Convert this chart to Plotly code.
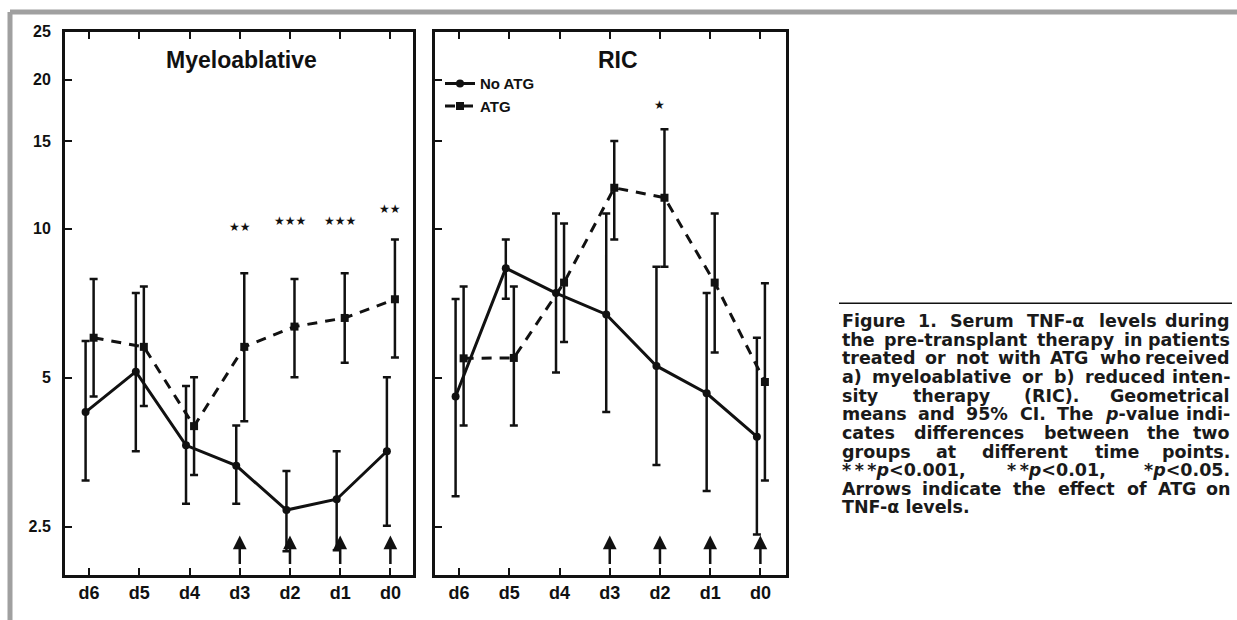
import math
import re
import plotly.graph_objects as go

# ---------------- data ----------------
days = ["d6", "d5", "d4", "d3", "d2", "d1", "d0"]

# Myeloablative
mye_noatg_mean = [4.26, 5.14, 3.65, 3.32, 2.70, 2.84, 3.55]
mye_noatg_hi = [5.93, 7.41, 4.81, 4.00, 3.24, 3.55, 5.01]
mye_noatg_lo = [3.10, 3.55, 2.78, 2.78, 2.23, 2.24, 2.51]
mye_atg_mean = [6.02, 5.77, 3.99, 5.77, 6.34, 6.60, 7.20]
mye_atg_hi = [7.91, 7.64, 5.01, 8.13, 7.91, 8.13, 9.51]
mye_atg_lo = [4.58, 4.38, 3.18, 4.08, 5.01, 5.36, 5.49]

# RIC
ric_noatg_mean = [4.58, 8.32, 7.41, 6.71, 5.28, 4.65, 3.80]
ric_noatg_hi = [7.21, 9.51, 10.73, 10.73, 8.38, 7.41, 6.02]
ric_noatg_lo = [2.88, 7.22, 5.12, 4.26, 3.33, 2.95, 2.41]
ric_atg_mean = [5.47, 5.48, 7.78, 12.09, 11.55, 7.78, 4.90]
ric_atg_hi = [7.64, 7.64, 10.24, 15.04, 15.88, 10.73, 7.76]
ric_atg_lo = [4.00, 4.00, 5.90, 9.51, 8.38, 5.62, 3.10]

mye_sig = {"d3": "★★", "d2": "★★★", "d1": "★★★", "d0": "★★"}
mye_sig_y = {"d3": 10.1, "d2": 10.37, "d1": 10.37, "d0": 10.98}
ric_sig = {"d2": "★"}
ric_sig_y = {"d2": 17.8}
arrow_days = ["d3", "d2", "d1", "d0"]

y_ticks = [2.5, 5, 10, 15, 20, 25]
y_tick_text = ["2.5", "5", "10", "15", "20", "25"]

caption_lines = [
    "Figure 1. Serum TNF-α levels during",
    "the pre-transplant therapy in patients",
    "treated or not with ATG who received",
    "a) myeloablative or b) reduced inten-",
    "sity therapy (RIC). Geometrical",
    "means and 95% CI. The <i>p</i>-value indi-",
    "cates differences between the two",
    "groups at different time points.",
    "*\u2009*\u2009*<i>p</i>&lt;0.001, *\u2009*<i>p</i>&lt;0.01, *<i>p</i>&lt;0.05.",
    "Arrows indicate the effect of ATG on",
    "TNF-α levels.",
]

# ---------------- figure ----------------
W, H = 1237, 620
DY = -6  # vertical pixel correction


def py(px):
    return 1 - (px + DY) / H


FONT = "Liberation Sans"
idx = list(range(len(days)))
off_no, off_atg = -0.07, 0.09

fig = go.Figure()


def add_series(mean, hi, lo, offset, xa, ya, name, dash, symbol, show):
    fig.add_trace(go.Scatter(
        x=[i + offset for i in idx], y=mean, xaxis=xa, yaxis=ya,
        mode="lines+markers", name=name, showlegend=show,
        line=dict(color="#111111", width=3, dash=dash),
        marker=dict(symbol=symbol, size=8, color="#111111"),
        error_y=dict(type="data", symmetric=False,
                     array=[h - m for h, m in zip(hi, mean)],
                     arrayminus=[m - l for m, l in zip(mean, lo)],
                     color="#111111", thickness=2.5, width=4),
    ))


add_series(mye_noatg_mean, mye_noatg_hi, mye_noatg_lo, off_no, "x", "y", "No ATG", "solid", "circle", False)
add_series(mye_atg_mean, mye_atg_hi, mye_atg_lo, off_atg, "x", "y", "ATG", "10px,8px", "square", False)
add_series(ric_noatg_mean, ric_noatg_hi, ric_noatg_lo, off_no, "x2", "y2", "No ATG", "solid", "circle", True)
add_series(ric_atg_mean, ric_atg_hi, ric_atg_lo, off_atg, "x2", "y2", "ATG", "10px,8px", "square", True)

ydom = [py(580), py(30)]
axfont = dict(family=FONT, size=17, color="#111111", weight="bold")

common_x = dict(tickmode="array", tickvals=idx, ticktext=days, ticks="inside", ticklen=7,
                tickwidth=2, tickcolor="#111111", showline=True, linewidth=3, linecolor="#111111",
                mirror="ticks", showgrid=False, zeroline=False, tickfont=dict(axfont, size=18),
                ticklabelstandoff=0)
common_y = dict(type="log", range=[math.log10(2), math.log10(25)], tickmode="array", tickvals=y_ticks,
                ticktext=y_tick_text, ticks="inside", ticklen=7, tickwidth=2, tickcolor="#111111",
                showline=True, linewidth=3, linecolor="#111111", mirror=True, showgrid=False,
                zeroline=False, domain=ydom, tickfont=dict(axfont, size=16))

right_ticks = [0.128, 0.253, 0.378, 0.503, 0.629, 0.750, 0.874]

fig.update_layout(
    width=W, height=H, margin=dict(l=0, r=0, t=0, b=0),
    paper_bgcolor="white", plot_bgcolor="white",
    font=dict(family=FONT, color="#111111"),
    xaxis=dict(common_x, domain=[65 / W, 413 / W], range=[-0.48, 6.45], anchor="y"),
    yaxis=dict(common_y, anchor="x", ticklabelstandoff=8),
    xaxis2=dict(common_x, domain=[435 / W, 786 / W], range=[-0.48, 6.51], anchor="y2"),
    yaxis2=dict(common_y, anchor="x2", showticklabels=False),
    yaxis3=dict(overlaying="y", side="right", anchor="x", range=[0, 1], tickmode="array",
                tickvals=right_ticks, ticks="inside", ticklen=7, tickwidth=2, tickcolor="#111111",
                showticklabels=False, showgrid=False, zeroline=False, showline=False),
    yaxis4=dict(overlaying="y2", side="right", anchor="x2", range=[0, 1], tickmode="array",
                tickvals=right_ticks, ticks="inside", ticklen=7, tickwidth=2, tickcolor="#111111",
                showticklabels=False, showgrid=False, zeroline=False, showline=False),
    legend=dict(x=440 / W, y=py(66), xanchor="left", yanchor="top", bgcolor="rgba(0,0,0,0)",
                font=dict(family=FONT, size=15, color="#111111", weight="bold"),
                itemwidth=30, tracegroupgap=0),
)

# panel titles
for txt, xc in [("Myeloablative", 241), ("RIC", 618)]:
    fig.add_annotation(text=txt, x=xc / W, y=py(59), xref="paper", yref="paper",
                       showarrow=False, xanchor="center", yanchor="middle",
                       font=dict(family=FONT, size=23, color="#111111", weight="bold"))

# significance stars (annotation y on log axes is in log10 units)
for d, s in mye_sig.items():
    fig.add_annotation(text=s, x=days.index(d), y=math.log10(mye_sig_y[d]), xref="x", yref="y",
                       showarrow=False, font=dict(family="DejaVu Sans", size=12, color="#111111"))
for d, s in ric_sig.items():
    fig.add_annotation(text=s, x=days.index(d), y=math.log10(ric_sig_y[d]), xref="x2", yref="y2",
                       showarrow=False, font=dict(family="DejaVu Sans", size=12, color="#111111"))

# arrows indicating ATG effect
for xa, ya in [("x", "y"), ("x2", "y2")]:
    for d in arrow_days:
        fig.add_annotation(text="", x=days.index(d), y=0.072, xref=xa, yref=ya + " domain",
                           showarrow=True, ax=0, ay=30, arrowhead=2, arrowsize=1.1,
                           arrowwidth=2.5, arrowcolor="#111111")

# ---------------- caption (justified, word by word) ----------------
CAP_FONT = "DejaVu Sans"
CAP_SIZE = 17.5
CAP_LEFT, CAP_RIGHT = 840, 1232
CAP_TOP, CAP_STEP = 323, 18.9

# approximate advance widths of DejaVu Sans Bold (em units)
_w = {" ": .348, "\u2009": .2, "a": .675, "b": .716, "c": .593, "d": .716, "e": .678, "f": .435,
      "g": .716, "h": .712, "i": .343, "j": .343, "k": .665, "l": .343, "m": 1.042, "n": .712,
      "o": .687, "p": .716, "q": .716, "r": .493, "s": .595, "t": .478, "u": .712, "v": .652,
      "w": .886, "x": .647, "y": .652, "z": .585, ".": .381, ",": .381, "-": .416, "(": .457,
      ")": .457, "%": 1.002, "*": .5, "<": .838, ":": .4, "α": .75, "A": .774, "C": .734,
      "F": .683, "G": .821, "I": .372, "N": .837, "R": .770, "S": .720, "T": .682}


def text_width(t):
    plain = re.sub(r"<[^>]+>", "", t).replace("&lt;", "<")
    return sum(_w.get(ch, 0.696 if ch.isdigit() else 0.68) for ch in plain) * CAP_SIZE


cap_font = dict(family=CAP_FONT, size=CAP_SIZE, color="#1a1a1a", weight="bold")
fig.add_shape(type="line", xref="paper", yref="paper", x0=839 / W, x1=CAP_RIGHT / W,
              y0=py(305), y1=py(305), line=dict(color="#111111", width=1.5))
for k, line in enumerate(caption_lines):
    yk = py(CAP_TOP + CAP_STEP * k)
    words = line.split(" ")
    last = k == len(caption_lines) - 1
    if last or len(words) == 1:
        fig.add_annotation(text=line, x=CAP_LEFT / W, y=yk, xref="paper", yref="paper",
                           showarrow=False, xanchor="left", yanchor="middle", font=cap_font)
        continue
    widths = [text_width(wd) for wd in words]
    gap = (CAP_RIGHT - CAP_LEFT - sum(widths)) / (len(words) - 1)
    xpos = CAP_LEFT
    for j, wd in enumerate(words):
        if j == len(words) - 1:
            fig.add_annotation(text=wd, x=CAP_RIGHT / W, y=yk, xref="paper", yref="paper",
                               showarrow=False, xanchor="right", yanchor="middle", font=cap_font)
        else:
            fig.add_annotation(text=wd, x=xpos / W, y=yk, xref="paper", yref="paper",
                               showarrow=False, xanchor="left", yanchor="middle", font=cap_font)
        xpos += widths[j] + gap

# gray frame
fig.add_shape(type="line", xref="paper", yref="paper", x0=10 / W, x1=1, y0=py(10), y1=py(10),
              line=dict(color="#a0a0a0", width=5))
fig.add_shape(type="line", xref="paper", yref="paper", x0=10 / W, x1=10 / W, y0=0, y1=py(10),
              line=dict(color="#a0a0a0", width=5))

fig.write_html("out.html", config={"displayModeBar": False},
               post_script="document.body.style.margin='0';")
